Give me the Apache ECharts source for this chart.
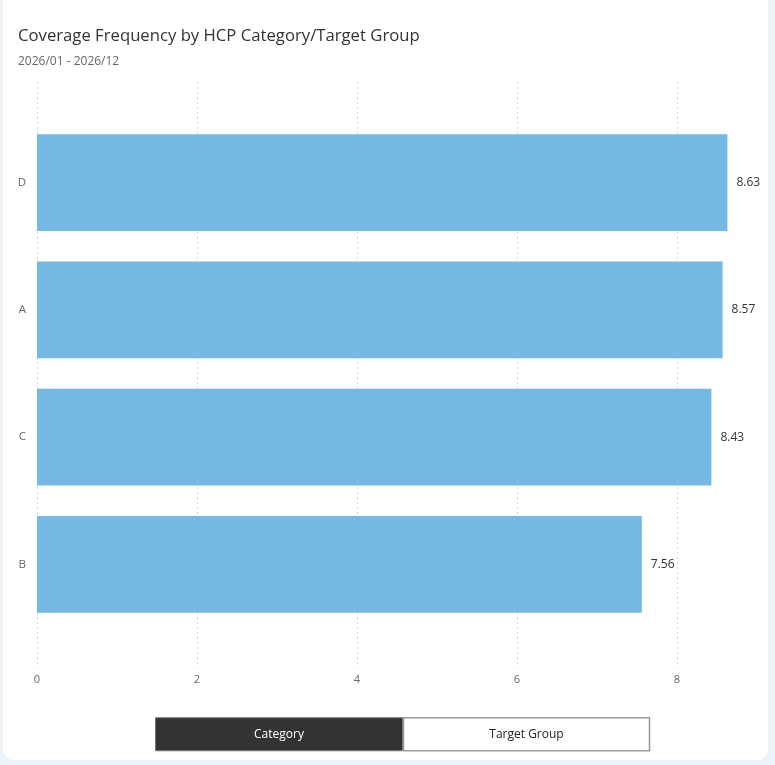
<!DOCTYPE html>
<html>
<head>
<meta charset="utf-8">
<script src="https://cdn.jsdelivr.net/npm/echarts@6/dist/echarts.min.js"></script>
<style>
    html, body {
        margin: 0;
        padding: 0;
        width: 775px;
        height: 765px;
        background: #eef3f8;
        overflow: hidden;
    }
    .card {
        position: absolute;
        left: 3px;
        top: -10px;
        width: 765px;
        height: 770px;
        background: #fff;
        border-radius: 10px;
    }
    #main {
        position: absolute;
        left: 0;
        top: 0;
        width: 775px;
        height: 765px;
    }
</style>
</head>
<body>
<div class="card"></div>
<div id="main"></div>
<script>
// 数据
let categories = ['D', 'A', 'C', 'B'];
let values = [8.63, 8.57, 8.43, 7.56];
let xTicks = [0, 2, 4, 6, 8];
let buttons = ['Category', 'Target Group'];

let font = '"Open Sans", "Noto Sans", sans-serif';
let charts = echarts.init(document.querySelector('#main'));

let option = {
    animation: false,
    title: {
        text: 'Coverage Frequency by HCP Category/Target Group',
        subtext: '2026/01 - 2026/12',
        left: 13,
        top: 23,
        itemGap: 11,
        textStyle: {
            fontFamily: font,
            fontSize: 16.7,
            fontWeight: 'normal',
            color: '#333'
        },
        subtextStyle: {
            fontFamily: font,
            fontSize: 12,
            color: '#666'
        }
    },
    grid: [{
        // 网格线用
        left: 37,
        right: 18,
        top: 82,
        bottom: 97
    }, {
        // 柱子用
        left: 37,
        right: 18,
        top: 119,
        bottom: 137
    }],
    xAxis: [{
        gridIndex: 0,
        type: 'value',
        min: 0,
        max: 9,
        interval: 2,
        axisLine: { show: false },
        axisTick: { show: false },
        axisLabel: {
            showMaxLabel: false,
            margin: 6,
            fontFamily: font,
            fontSize: 11,
            color: '#666',
            formatter: function (v) {
                return xTicks.indexOf(v) > -1 ? v : '';
            }
        },
        splitLine: {
            showMaxLine: false,
            lineStyle: { color: '#d6d6d6', type: [2, 3] }
        }
    }, {
        gridIndex: 1,
        type: 'value',
        min: 0,
        max: 9,
        show: false
    }],
    yAxis: [{
        gridIndex: 0,
        type: 'category',
        data: categories,
        show: false
    }, {
        gridIndex: 1,
        type: 'category',
        inverse: true,
        data: categories,
        axisLine: { show: false },
        axisTick: { show: false },
        axisLabel: {
            margin: 11,
            fontFamily: font,
            fontSize: 11.5,
            color: '#666'
        }
    }],
    series: [{
        type: 'bar',
        xAxisIndex: 1,
        yAxisIndex: 1,
        data: values,
        barCategoryGap: '24%',
        itemStyle: { color: '#75b9e2' },
        label: {
            show: true,
            position: 'right',
            distance: 9,
            fontFamily: font,
            fontSize: 12,
            color: '#333',
            formatter: function (p) {
                return p.value.toFixed(2);
            }
        }
    }],
    graphic: [{
        type: 'group',
        left: 155,
        top: 717,
        children: [{
            type: 'rect',
            shape: { x: 0, y: 0, width: 247, height: 33 },
            style: { fill: '#333', stroke: '#777', lineWidth: 1 }
        }, {
            type: 'text',
            x: 123.5,
            y: 17,
            style: {
                text: buttons[0],
                fill: '#fff',
                font: '12px ' + font,
                align: 'center',
                verticalAlign: 'middle'
            }
        }, {
            type: 'rect',
            shape: { x: 248, y: 0, width: 246, height: 33 },
            style: { fill: '#fff', stroke: '#999', lineWidth: 1.5 }
        }, {
            type: 'text',
            x: 371,
            y: 17,
            style: {
                text: buttons[1],
                fill: '#222',
                font: '12px ' + font,
                align: 'center',
                verticalAlign: 'middle'
            }
        }]
    }]
};
charts.setOption(option);
</script>
</body>
</html>
